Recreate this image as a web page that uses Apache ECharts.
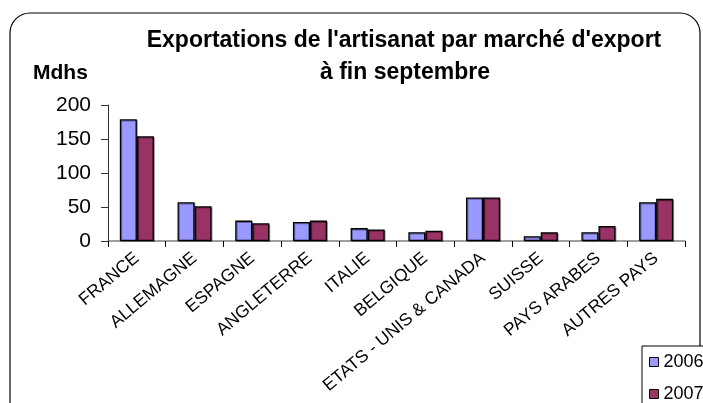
<!DOCTYPE html>
<html lang="fr">
<head>
<meta charset="UTF-8">
<script src="https://cdn.jsdelivr.net/npm/echarts@6/dist/echarts.min.js"></script>
<title>Exportations de l'artisanat</title>
<style>
  html, body { margin: 0; padding: 0; background: #fff; }
  #main { width: 703px; height: 403px; }
</style>
</head>
<body>
<div id="main"></div>
<script>
    var categories = ['FRANCE', 'ALLEMAGNE', 'ESPAGNE', 'ANGLETERRE', 'ITALIE', 'BELGIQUE',
        'ETATS - UNIS & CANADA', 'SUISSE', 'PAYS ARABES', 'AUTRES PAYS'];
    var years = ['2006', '2007'];
    var values2006 = [179, 57, 30, 28, 19, 13, 64, 7, 13, 57];
    var values2007 = [154, 51, 26, 30, 17, 15, 64, 13, 22, 62];
    var yTicks = [0, 50, 100, 150, 200];

    var font = '"Liberation Sans", Arial, sans-serif';
    var myChart = echarts.init(document.getElementById('main'));

    function barSeries(name, data, color) {
        return {
            name: name,
            type: 'bar',
            data: data,
            barGap: '0%',
            barCategoryGap: '41%',
            itemStyle: {
                color: color,
                borderColor: '#000',
                borderWidth: 1.3,
                shadowColor: 'rgba(0,0,0,0.35)',
                shadowOffsetX: 1,
                shadowOffsetY: 1
            }
        };
    }

    // one legend per year, so the vertical list does not wrap off the page
    function legendFor(name, top) {
        return {
            data: [name],
            left: 649,
            top: top,
            padding: 0,
            itemWidth: 9,
            itemHeight: 9,
            icon: 'rect',
            textStyle: { fontSize: 18, color: '#000' },
            itemStyle: { borderColor: '#000', borderWidth: 1 }
        };
    }

    var option = {
        animation: false,
        textStyle: { fontFamily: font },
        grid: { left: 108, right: 18, top: 105, bottom: 162 },
        xAxis: {
            type: 'category',
            data: categories,
            axisLine: { lineStyle: { color: '#808080', width: 1.5 } },
            axisTick: { show: true, length: 6, lineStyle: { color: '#000' } },
            axisLabel: {
                interval: 0,
                rotate: 40,
                fontSize: 17.5,
                color: '#000',
                margin: 15
            }
        },
        yAxis: {
            type: 'value',
            min: yTicks[0],
            max: yTicks[yTicks.length - 1],
            interval: 50,
            axisLine: { show: true, lineStyle: { color: '#333' } },
            axisTick: { show: true, length: 7, lineStyle: { color: '#333' } },
            splitLine: { show: false },
            axisLabel: { fontSize: 21, color: '#000', margin: 17 }
        },
        legend: [legendFor(years[0], 353), legendFor(years[1], 385)],
        graphic: [
            {
                type: 'rect',
                z: -1,
                shape: { x: 10, y: 13, width: 690, height: 440, r: 20 },
                style: { fill: 'none', stroke: '#000', lineWidth: 1.2 }
            },
            {
                type: 'rect',
                shape: { x: 642, y: 346, width: 100, height: 100 },
                style: { fill: '#fff', stroke: '#000', lineWidth: 1 },
                z: 0
            },
            {
                type: 'text',
                style: {
                    text: "Exportations de l'artisanat par marché d'export",
                    x: 404, y: 41,
                    textAlign: 'center', textVerticalAlign: 'middle',
                    font: 'bold 23px ' + font, fill: '#000'
                }
            },
            {
                type: 'text',
                style: {
                    text: 'à fin septembre',
                    x: 405, y: 73,
                    textAlign: 'center', textVerticalAlign: 'middle',
                    font: 'bold 23px ' + font, fill: '#000'
                }
            },
            {
                type: 'text',
                style: {
                    text: 'Mdhs',
                    x: 33, y: 73,
                    textVerticalAlign: 'middle',
                    font: 'bold 21px ' + font, fill: '#000'
                }
            }
        ],
        series: [
            barSeries(years[0], values2006, '#9999FF'),
            barSeries(years[1], values2007, '#993366')
        ]
    };
    myChart.setOption(option);
</script>
</body>
</html>
